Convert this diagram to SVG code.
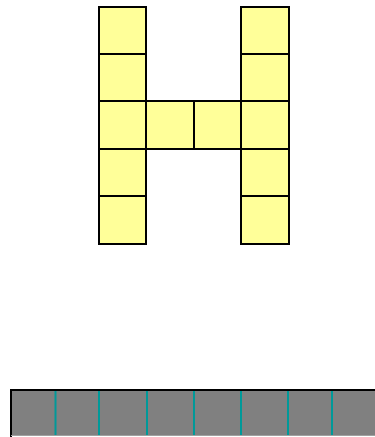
<svg xmlns="http://www.w3.org/2000/svg" width="375" height="437" viewBox="0 0 375 437">
<style>
.cell{fill:#ffff99;stroke:#000;stroke-width:2}
.div{stroke:#009999;stroke-width:2}
</style>
<rect width="375" height="437" fill="#fff"/>
<g id="letter-h">
<rect class="cell" x="99" y="7" width="47" height="47"/>
<rect class="cell" x="99" y="54" width="47" height="47"/>
<rect class="cell" x="99" y="101" width="47" height="48"/>
<rect class="cell" x="99" y="149" width="47" height="47"/>
<rect class="cell" x="99" y="196" width="47" height="48"/>
<rect class="cell" x="146" y="101" width="48" height="48"/>
<rect class="cell" x="194" y="101" width="47" height="48"/>
<rect class="cell" x="241" y="7" width="48" height="47"/>
<rect class="cell" x="241" y="54" width="48" height="47"/>
<rect class="cell" x="241" y="101" width="48" height="48"/>
<rect class="cell" x="241" y="149" width="48" height="47"/>
<rect class="cell" x="241" y="196" width="48" height="48"/>
</g>
<g id="bar">
<rect x="11" y="390" width="364" height="46" fill="#808080"/>
<line x1="10" y1="390" x2="375" y2="390" stroke="#000" stroke-width="2"/>
<line x1="11" y1="389" x2="11" y2="437" stroke="#000" stroke-width="2"/>
<line x1="11" y1="435.5" x2="375" y2="435.5" stroke="#a0a0a0" stroke-width="1"/>
<line class="div" x1="55.5" y1="391" x2="55.5" y2="435"/>
<line class="div" x1="99" y1="391" x2="99" y2="435"/>
<line class="div" x1="147" y1="391" x2="147" y2="435"/>
<line class="div" x1="194" y1="391" x2="194" y2="435"/>
<line class="div" x1="241" y1="391" x2="241" y2="435"/>
<line class="div" x1="288" y1="391" x2="288" y2="435"/>
<line class="div" x1="332" y1="391" x2="332" y2="435"/>
</g>
</svg>
